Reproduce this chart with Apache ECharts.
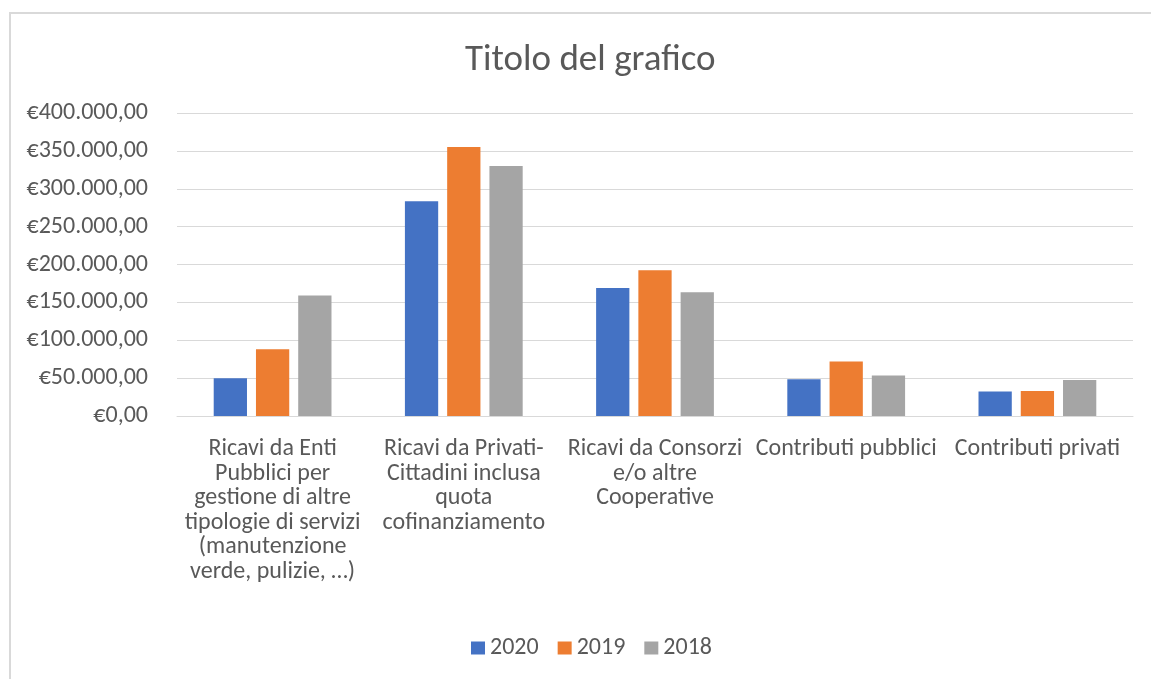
<!DOCTYPE html>
<html>
<head>
<meta charset="utf-8">
<script src="https://cdn.jsdelivr.net/npm/echarts@6/dist/echarts.min.js"></script>
<style>
  html, body { margin: 0; padding: 0; background: #fff; }
  #chart { width: 1151px; height: 679px; }
</style>
</head>
<body>
<div id="chart"></div>
<script>
// categorie (a capo come nel grafico originale)
const categories = [
  'Ricavi da Enti\nPubblici per\ngestione di altre\ntipologie di servizi\n(manutenzione\nverde, pulizie, …)',
  'Ricavi da Privati-\nCittadini inclusa\nquota\ncofinanziamento',
  'Ricavi da Consorzi\ne/o altre\nCooperative',
  'Contributi pubblici',
  'Contributi privati'
];
const years = ['2020', '2019', '2018'];
const values2020 = [50000, 283500, 169000, 48500, 32500];
const values2019 = [88000, 355000, 192500, 72000, 33000];
const values2018 = [159000, 330000, 163500, 53500, 47500];
const colors = ['#4472C4', '#ED7D31', '#A5A5A5'];

const fontFamily = 'Carlito, Lato, "Open Sans", sans-serif';
const textColor = '#595959';

// formato euro italiano: €350.000,00
function euro(v) {
  const s = Math.round(v).toString().replace(/\B(?=(\d{3})+(?!\d))/g, '.');
  return '€' + s + ',00';
}

const chart = echarts.init(document.getElementById('chart'));
const seriesData = [values2020, values2019, values2018];

chart.setOption({
  animation: false,
  color: colors,
  textStyle: { fontFamily: fontFamily },
  title: {
    text: 'Titolo del grafico',
    left: 460,
    top: 37,
    textStyle: { fontFamily: fontFamily, fontSize: 37, fontWeight: 'normal', color: textColor }
  },
  graphic: [
    {
      type: 'rect',
      shape: { x: 10, y: 13, width: 1300, height: 800 },
      style: { fill: 'none', stroke: '#D9D9D9', lineWidth: 2 },
      silent: true
    }
  ],
  legend: {
    data: years,
    bottom: 14,
    left: 466,
    icon: 'rect',
    itemWidth: 14,
    itemHeight: 13,
    itemGap: 19,
    textStyle: { fontFamily: fontFamily, fontSize: 24, color: textColor }
  },
  grid: {
    left: 177,
    right: 18,
    top: 113,
    bottom: 263,
    containLabel: false
  },
  xAxis: {
    type: 'category',
    data: categories,
    axisLine: { lineStyle: { color: '#D9D9D9', width: 1 } },
    axisTick: { show: false },
    axisLabel: {
      interval: 0,
      margin: 21,
      fontSize: 24,
      lineHeight: 24.5,
      color: textColor,
      fontFamily: fontFamily
    }
  },
  yAxis: {
    type: 'value',
    min: 0,
    max: 400000,
    interval: 50000,
    axisLine: { show: false },
    axisTick: { show: false },
    splitLine: { lineStyle: { color: '#D9D9D9', width: 1 } },
    axisLabel: {
      margin: 29,
      fontSize: 24,
      color: textColor,
      fontFamily: fontFamily,
      formatter: euro
    }
  },
  series: years.map(function (y, i) {
    return {
      name: y,
      type: 'bar',
      data: seriesData[i],
      barGap: '27%',
      barCategoryGap: '38.4%',
      itemStyle: { color: colors[i] }
    };
  })
});
</script>
</body>
</html>
